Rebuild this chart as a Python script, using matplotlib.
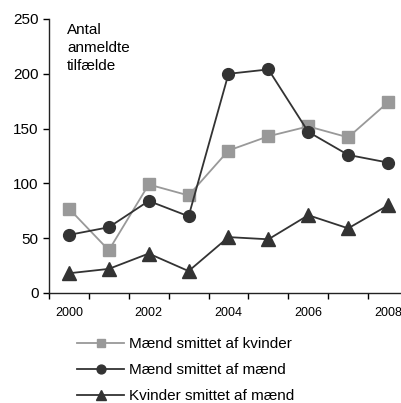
import matplotlib.pyplot as plt
import numpy as np

plt.rcParams['font.family'] = ['Liberation Sans', 'DejaVu Sans']

years = ['2000', '2001', '2002', '2003', '2004', '2005', '2006', '2007', '2008']
maend_af_kvinder = [77, 39, 99, 89, 130, 143, 152, 142, 174]
maend_af_maend = [53, 60, 84, 70, 200, 204, 147, 126, 119]
kvinder_af_maend = [18, 22, 36, 20, 51, 49, 71, 59, 80]

fig = plt.figure(figsize=(4.01, 4.03), dpi=100)
ax = fig.add_axes([49 / 401, 110 / 403, 359 / 401, 274 / 403])

x = np.arange(len(years))
ax.plot(x, maend_af_kvinder, color='#999999', lw=1.3, marker='s', ms=8.5,
        mec='#999999', mfc='#999999', label='Mænd smittet af kvinder')
ax.plot(x, maend_af_maend, color='#333333', lw=1.3, marker='o', ms=8.5,
        mec='#333333', mfc='#333333', label='Mænd smittet af mænd')
ax.plot(x, kvinder_af_maend, color='#333333', lw=1.3, marker='^', ms=9.5,
        mec='#333333', mfc='#333333', label='Kvinder smittet af mænd')

ax.set_xlim(-0.5, len(years) - 0.5)
ax.set_ylim(0, 250)
ax.set_yticks([0, 50, 100, 150, 200, 250])
ax.set_xticks(np.arange(-0.5, len(years), 1.0), minor=False)
ax.set_xticklabels([])
ax.set_xticks(x[::2], minor=True)
ax.set_xticklabels(years[::2], minor=True)
ax.tick_params(axis='x', which='major', direction='out', length=4, width=1)
ax.tick_params(axis='x', which='minor', length=0, pad=10, labelsize=9)
ax.tick_params(axis='y', direction='out', length=4.5, width=1, pad=3, labelsize=11)

for s in ['top', 'right']:
    ax.spines[s].set_visible(False)
for s in ['left', 'bottom']:
    ax.spines[s].set_linewidth(1)
    ax.spines[s].set_color('#222222')

ax.text(0.05, 0.985, 'Antal\nanmeldte\ntilfælde', transform=ax.transAxes,
        ha='left', va='top', fontsize=11, linespacing=1.35)

fig.legend(loc='upper left', bbox_to_anchor=(77 / 401, 1 - 337 / 403), frameon=False,
           fontsize=11, handlelength=3.1, handletextpad=0.3, labelspacing=0.8,
           markerscale=0.75, borderaxespad=0, borderpad=0)

fig.savefig('out.png', dpi=100)
